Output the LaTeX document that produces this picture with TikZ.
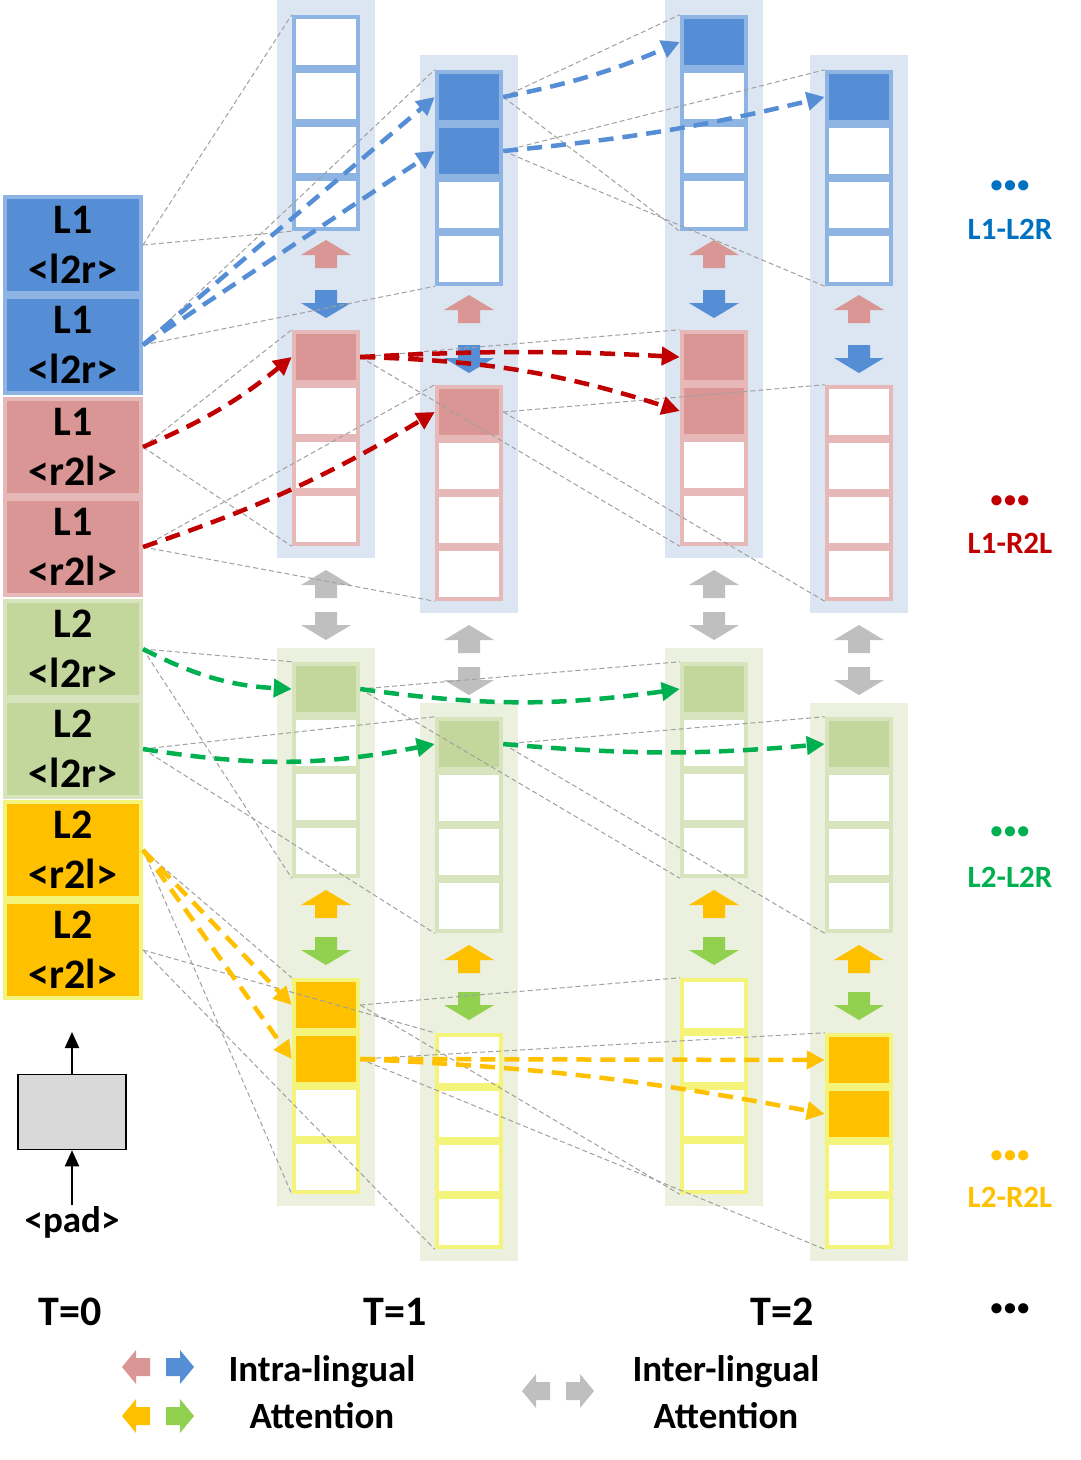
\documentclass[tikz,border=0pt]{standalone}
\usepackage{fontspec}
\setmainfont{Carlito}
\usetikzlibrary{arrows.meta}

\definecolor{blueFill}{RGB}{85,142,213}
\definecolor{blueLine}{RGB}{142,180,227}
\definecolor{bluePanel}{RGB}{220,230,242}
\definecolor{redFill}{RGB}{217,150,148}
\definecolor{redLine}{RGB}{230,185,184}
\definecolor{greenFill}{RGB}{195,214,155}
\definecolor{greenLine}{RGB}{215,228,189}
\definecolor{greenPanel}{RGB}{235,241,222}
\definecolor{orangeFill}{RGB}{255,192,0}
\definecolor{yellowLine}{RGB}{244,244,122}
\definecolor{darkRed}{RGB}{192,0,0}
\definecolor{brightGreen}{RGB}{0,176,80}
\definecolor{limeGreen}{RGB}{146,208,80}
\definecolor{textBlue}{RGB}{0,112,192}
\definecolor{arrGray}{RGB}{191,191,191}
\definecolor{lineGray}{RGB}{160,160,160}

\tikzset{
  cell/.style={draw, line width=4.5pt, minimum width=64pt, minimum height=50pt, inner sep=0pt},
  tcell/.style={draw, line width=4pt, minimum width=136pt, minimum height=96pt, inner sep=0pt,
    align=center, font=\fontsize{42}{50}\selectfont\bfseries},
  gline/.style={draw=lineGray, line width=1pt, dash pattern=on 5pt off 3pt},
  cdash/.style={line width=4.5pt, dash pattern=on 15pt off 9pt, -{Triangle[length=18pt,width=18pt]}},
  parr/.style={line width=2pt, -{Triangle[length=16pt,width=14pt]}},
  lbl/.style={font=\fontsize{42}{50}\selectfont\bfseries},
  leg/.style={align=center, font=\fontsize{37}{47}\selectfont\bfseries},
  side/.style={font=\fontsize{31}{36}\selectfont\bfseries},
  dots/.style={font=\fontsize{24}{26}\selectfont\bfseries},
  uparr/.pic={\path[pic actions] (0,0) -- (25,15) -- (11,15) -- (11,28) -- (-11,28) -- (-11,15) -- (-25,15) -- cycle;},
  dnarr/.pic={\path[pic actions] (0,0) -- (25,-15) -- (11,-15) -- (11,-28) -- (-11,-28) -- (-11,-15) -- (-25,-15) -- cycle;},
  lfarr/.pic={\path[pic actions] (0,0) -- (14,-17) -- (14,-9) -- (28,-9) -- (28,9) -- (14,9) -- (14,17) -- cycle;},
  rtarr/.pic={\path[pic actions] (0,0) -- (-14,-17) -- (-14,-9) -- (-28,-9) -- (-28,9) -- (-14,9) -- (-14,17) -- cycle;}
}
\newcommand{\tridot}{•\hspace{1.5pt}•\hspace{1.5pt}•}

\begin{document}
\begin{tikzpicture}[x=1pt,y=-1pt]
\useasboundingbox (0,0) rectangle (1080,1460);

% columns T=1 and T=2
\foreach \c/\x/\dy/\nb/\nr/\ng/\ny in {A/326/0/0/1/1/2, B/469/55/2/1/1/0, C/714/0/1/2/1/0, D/859/55/1/0/1/2}{
  \fill[bluePanel] (\x-49,\dy) rectangle (\x+49,558+\dy);
  \fill[greenPanel] (\x-49,648+\dy) rectangle (\x+49,1206+\dy);
  \foreach \i in {1,...,4}{
    \ifnum\i>\nb \def\fc{white}\else\def\fc{blueFill}\fi
    \node[cell, draw=blueLine, fill=\fc] (\c-b\i) at (\x,{42+54*(\i-1)+\dy}) {};
    \ifnum\i>\nr \def\fc{white}\else\def\fc{redFill}\fi
    \node[cell, draw=redLine, fill=\fc] (\c-r\i) at (\x,{357+54*(\i-1)+\dy}) {};
    \ifnum\i>\ng \def\fc{white}\else\def\fc{greenFill}\fi
    \node[cell, draw=greenLine, fill=\fc] (\c-g\i) at (\x,{689+54*(\i-1)+\dy}) {};
    \ifnum\i>\ny \def\fc{white}\else\def\fc{orangeFill}\fi
    \node[cell, draw=yellowLine, fill=\fc] (\c-y\i) at (\x,{1005+54*(\i-1)+\dy}) {};
  }
  \pic[fill=redFill] at (\x,240+\dy) {uparr};
  \pic[fill=blueFill] at (\x,318+\dy) {dnarr};
  \pic[fill=arrGray] at (\x,570+\dy) {uparr};
  \pic[fill=arrGray] at (\x,640+\dy) {dnarr};
  \pic[fill=orangeFill] at (\x,890+\dy) {uparr};
  \pic[fill=limeGreen] at (\x,965+\dy) {dnarr};
}

% T=0 column
\node[tcell, draw=blueLine, fill=blueFill] (t0-1) at (73,245) {L1\\<l2r>};
\node[tcell, draw=blueLine, fill=blueFill] (t0-2) at (73,345) {L1\\<l2r>};
\node[tcell, draw=redLine, fill=redFill] (t0-3) at (73,447) {L1\\<r2l>};
\node[tcell, draw=redLine, fill=redFill] (t0-4) at (73,547) {L1\\<r2l>};
\node[tcell, draw=greenLine, fill=greenFill] (t0-5) at (73,649) {L2\\<l2r>};
\node[tcell, draw=greenLine, fill=greenFill] (t0-6) at (73,749) {L2\\<l2r>};
\node[tcell, draw=yellowLine, fill=orangeFill] (t0-7) at (73,850) {L2\\<r2l>};
\node[tcell, draw=yellowLine, fill=orangeFill] (t0-8) at (73,950) {L2\\<r2l>};

% pad input
\node[draw, line width=1.5pt, fill=black!15, minimum width=108pt, minimum height=75pt] (pad) at (72,1112) {};
\coordinate (padout) at (72,1032);
\node[lbl, font=\fontsize{37}{44}\selectfont\bfseries, inner sep=1pt] (padtxt) at (72,1222) {<pad>};
\draw[parr] (pad.north) -- (padout);
\draw[parr] (padtxt.north) -- (pad.south);

% attention spans
\foreach \src/\dst in {t0-1/A-b, t0-2/B-b, t0-3/A-r, t0-4/B-r, t0-5/A-g, t0-6/B-g, t0-7/A-y, t0-8/B-y,
    A-r1/C-r, B-b1/C-b, B-b2/D-b, B-r1/D-r, A-g1/C-g, B-g1/D-g, A-y1/C-y, A-y2/D-y}{
  \draw[gline] (\src.east) -- (\dst1.north west);
  \draw[gline] (\src.east) -- (\dst4.south west);
}

% decoding steps
\draw[cdash, blueFill] (t0-2.east) -- (B-b1.west);
\draw[cdash, blueFill] (t0-2.east) -- (B-b2.west);
\draw[cdash, blueFill] (B-b1.east) to[bend right=6] (C-b1.west);
\draw[cdash, blueFill] (B-b2.east) to[bend right=4] (D-b1.west);
\draw[cdash, darkRed] (t0-3.east) to[bend right=8] (A-r1.west);
\draw[cdash, darkRed] (t0-4.east) to[bend right=6] (B-r1.west);
\draw[cdash, darkRed] (A-r1.east) to[bend left=3] (C-r1.west);
\draw[cdash, darkRed] (A-r1.east) to[bend left=8] (C-r2.west);
\draw[cdash, brightGreen] (t0-5.east) to[bend right=12] (A-g1.west);
\draw[cdash, brightGreen] (t0-6.east) to[bend right=10] (B-g1.west);
\draw[cdash, brightGreen] (A-g1.east) to[bend right=8] (C-g1.west);
\draw[cdash, brightGreen] (B-g1.east) to[bend right=5] (D-g1.west);
\draw[cdash, orangeFill] (t0-7.east) -- (A-y1.west);
\draw[cdash, orangeFill] (t0-7.east) -- (A-y2.west);
\draw[cdash, orangeFill] (A-y2.east) -- (D-y1.west);
\draw[cdash, orangeFill] (A-y2.east) to[bend left=4] (D-y2.west);

% side labels
\node[dots, textBlue] (d1) at (1010,187) {\tridot};
\node[side, textBlue] (s1) at (1010,229) {L1-L2R};
\node[dots, darkRed] (d2) at (1010,502) {\tridot};
\node[side, darkRed] (s2) at (1010,543) {L1-R2L};
\node[dots, brightGreen] (d3) at (1010,833) {\tridot};
\node[side, brightGreen] (s3) at (1010,877) {L2-L2R};
\node[dots, orangeFill] (d4) at (1010,1157) {\tridot};
\node[side, orangeFill] (s4) at (1010,1197) {L2-R2L};

% time steps
\node[lbl] (T0) at (70,1312) {T=0};
\node[lbl] (T1) at (395,1312) {T=1};
\node[lbl] (T2) at (782,1312) {T=2};
\node[dots, black] (Tn) at (1010,1310) {\tridot};

% legend
\pic[fill=redFill] at (122,1367) {lfarr};
\pic[fill=blueFill] at (194,1367) {rtarr};
\pic[fill=orangeFill] at (122,1416) {lfarr};
\pic[fill=limeGreen] at (194,1416) {rtarr};
\node[leg] (intra) at (322,1392) {Intra-lingual\\Attention};
\pic[fill=arrGray] at (522,1391) {lfarr};
\pic[fill=arrGray] at (594,1391) {rtarr};
\node[leg] (inter) at (726,1392) {Inter-lingual\\Attention};

\end{tikzpicture}
\end{document}
